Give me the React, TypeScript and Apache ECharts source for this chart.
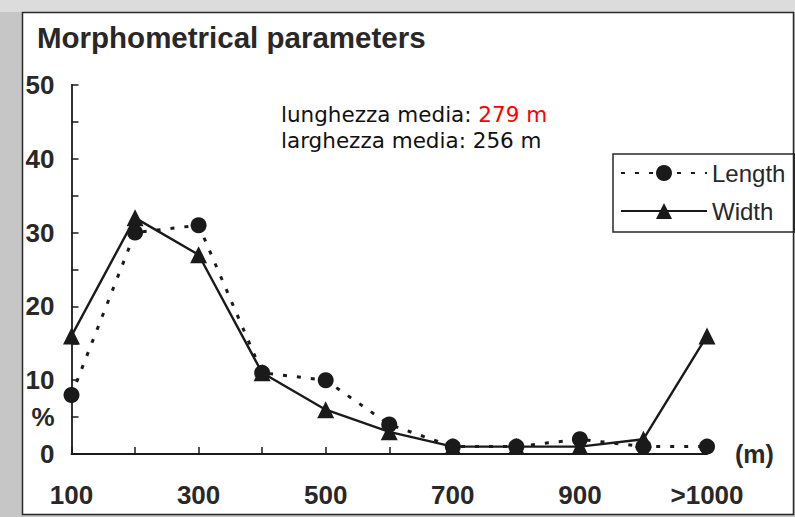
import React, { useEffect, useRef } from 'react';
import * as echarts from 'echarts';

// ---- data ----
const categories = ['100', '200', '300', '400', '500', '600', '700', '800', '900', '1000', '>1000'];
const lengthValues = [8, 30, 31, 11, 10, 4, 1, 1, 2, 1, 1];
const widthValues = [16, 32, 27, 11, 6, 3, 1, 1, 1, 2, 16];
const yTickValues = [0, 5, 10, 20, 30, 40, 50];
const yTickTexts = ['0', '%', '10', '20', '30', '40', '50'];
const seriesNames = ['Length', 'Width'];
const titleText = 'Morphometrical parameters';
const noteLength = 'lunghezza media: ';
const noteLengthValue = '279 m';
const noteWidth = 'larghezza media: 256 m';
const xAxisUnit = '(m)';

const INK = '#1a1a1a';
const TXT = '#282828';
const SANS = '"Liberation Sans", Arial, sans-serif';
const NOTE_FONT = '"DejaVu Sans", Verdana, sans-serif';

export default function App() {
  const ref = useRef<HTMLDivElement>(null);

  useEffect(() => {
    if (!ref.current) return;
    const chart = echarts.init(ref.current, null, { renderer: 'svg' });
    const noteStyle = {
      fontFamily: NOTE_FONT,
      fontSize: 21.5,
      fill: '#111111',
      verticalAlign: 'middle',
      align: 'left',
    };
    const option: any = {
      animation: false,
      backgroundColor: '#c6c6c6',
      title: {
        text: titleText,
        left: 37,
        top: 22,
        padding: 0,
        textStyle: { fontFamily: SANS, fontSize: 29.5, fontWeight: 'bold', color: TXT },
      },
      legend: {
        orient: 'vertical',
        left: 613,
        top: 154,
        itemWidth: 86,
        itemHeight: 20,
        itemGap: 14,
        padding: [7, 9, 9, 7],
        borderColor: TXT,
        borderWidth: 1.5,
        data: seriesNames,
        textStyle: { fontFamily: SANS, fontSize: 24, color: TXT },
      },
      grid: {
        left: 71.5,
        right: 88,
        top: 85,
        bottom: 63,
        containLabel: false,
        outerBoundsMode: 'none',
      },
      xAxis: {
        type: 'category',
        data: categories,
        boundaryGap: false,
        name: xAxisUnit,
        nameLocation: 'end',
        nameGap: 28,
        nameTextStyle: {
          fontFamily: SANS,
          fontSize: 25,
          fontWeight: 'bold',
          color: TXT,
          padding: [16, 0, 0, 0],
        },
        axisLine: { lineStyle: { color: INK, width: 1.8 } },
        axisTick: { show: true, inside: true, length: 7, interval: 0, lineStyle: { color: INK, width: 1.5 } },
        axisLabel: {
          interval: 1,
          margin: 28,
          fontFamily: SANS,
          fontSize: 26,
          fontWeight: 'bold',
          color: TXT,
        },
        splitLine: { show: false },
      },
      yAxis: {
        type: 'value',
        min: 0,
        max: 50,
        interval: 5,
        axisLine: { show: true, lineStyle: { color: INK, width: 1.8 } },
        axisTick: { show: true, inside: true, length: 7, lineStyle: { color: INK, width: 1.5 } },
        axisLabel: {
          margin: 17,
          fontFamily: SANS,
          fontSize: 26,
          fontWeight: 'bold',
          color: TXT,
          formatter: (v: number) => {
            const i = yTickValues.indexOf(v);
            return i >= 0 ? yTickTexts[i] : '';
          },
        },
        splitLine: { show: false },
      },
      series: [
        {
          name: seriesNames[0],
          type: 'line',
          data: lengthValues,
          symbol: 'circle',
          symbolSize: 16,
          itemStyle: { color: INK },
          lineStyle: { color: INK, width: 3, type: [4, 10] },
          z: 3,
        },
        {
          name: seriesNames[1],
          type: 'line',
          data: widthValues,
          symbol: 'triangle',
          symbolSize: 17,
          itemStyle: { color: INK },
          lineStyle: { color: INK, width: 2.4 },
          z: 2,
        },
      ],
      graphic: [
        {
          type: 'rect',
          z: -10,
          shape: { x: 0, y: 0, width: 795, height: 12 },
          style: { fill: '#dcdcdc' },
        },
        {
          type: 'rect',
          z: -9,
          shape: { x: 22.5, y: 12.5, width: 771, height: 502 },
          style: { fill: '#ffffff', stroke: TXT, lineWidth: 1.5 },
        },
        {
          type: 'text',
          x: 281,
          y: 114,
          z: 10,
          style: {
            ...noteStyle,
            text: noteLength + '{red|' + noteLengthValue + '}',
            rich: {
              red: { fill: '#ff0000', fontFamily: NOTE_FONT, fontSize: 21.5 },
            },
          },
        },
        {
          type: 'text',
          x: 281,
          y: 140,
          z: 10,
          style: { ...noteStyle, text: noteWidth },
        },
      ],
    };
    chart.setOption(option);
    return () => chart.dispose();
  }, []);

  return (
    <div
      ref={ref}
      style={{ position: 'fixed', left: 0, top: 0, width: 795, height: 517 }}
    />
  );
}
